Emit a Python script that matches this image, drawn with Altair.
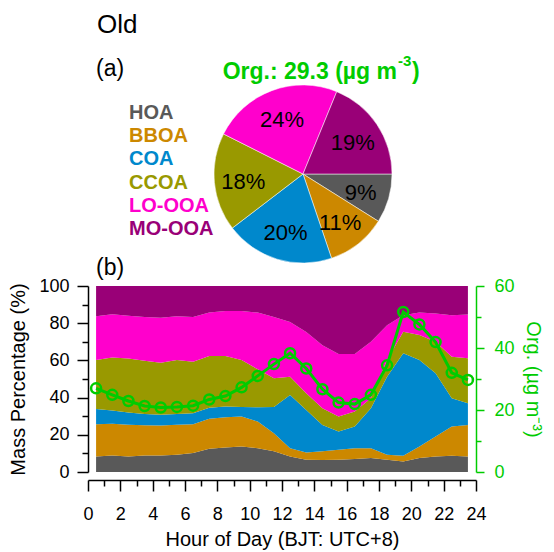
import altair as alt
import pandas as pd

# ---------------- data ----------------
hours = [0.5 + i for i in range(24)]
factors = ["HOA", "BBOA", "COA", "CCOA", "LO-OOA", "MO-OOA"]
colors = ["#595959", "#CC8800", "#0088CC", "#999900", "#FF00CC", "#990077"]

hoa = [8.4, 8.9, 8.4, 8.9, 8.9, 9.3, 10.2, 12.5, 13.2, 13.7, 12.8, 11.1,
       8.4, 6.6, 6.5, 6.6, 7.0, 7.5, 6.6, 5.7, 7.5, 8.4, 8.7, 8.4]
bboa = [17.3, 17.0, 17.0, 16.3, 16.1, 16.1, 15.5, 16.1, 16.3, 16.1, 14.3, 9.8,
        4.4, 3.9, 4.6, 5.3, 5.8, 5.3, 2.7, 3.0, 6.2, 10.7, 15.7, 16.9]
coa = [8.2, 7.1, 6.6, 6.0, 5.8, 5.8, 5.9, 6.0, 5.7, 5.2, 7.7, 14.1,
       28.6, 22.9, 14.2, 9.9, 11.6, 21.5, 41.9, 55.1, 46.5, 34.0, 15.3, 11.7]
ccoa = [26.3, 28.6, 29.0, 28.6, 27.9, 29.0, 27.7, 27.7, 27.1, 25.2, 20.4, 15.4,
        9.8, 8.9, 9.0, 8.0, 8.1, 5.4, 9.0, 11.6, 13.4, 16.9, 22.3, 24.2]
lo_ooa = [23.6, 23.2, 23.0, 23.6, 24.2, 23.6, 24.1, 23.4, 24.3, 26.4, 30.5, 33.0,
          29.5, 33.0, 33.9, 33.6, 30.9, 30.3, 18.7, 8.9, 12.1, 15.2, 22.3, 23.5]
mo_ooa = [16.2, 15.2, 16.0, 16.6, 17.1, 16.2, 16.6, 14.3, 13.4, 13.4, 14.3, 16.6,
          19.3, 24.7, 31.8, 36.6, 36.6, 30.0, 21.1, 15.7, 14.3, 14.8, 15.7, 15.3]

org = [27.0, 24.9, 22.9, 21.3, 20.8, 21.0, 21.4, 23.4, 24.5, 27.3, 31.0, 34.8,
       38.3, 33.4, 26.7, 22.4, 21.9, 24.9, 34.4, 51.6, 47.6, 41.9, 32.0, 29.7]

pie_pct = [9, 11, 20, 18, 24, 19]
org_mean = "29.3"

# ---------------- layout constants ----------------
FONT = "Liberation Sans"
GREEN = "#00CC00"
L, T = 88, 286          # plot-area origin (padding)
W, H = 388, 186
PIE_CX, PIE_CY, PIE_R = 303, 174, 89

series = [hoa, bboa, coa, ccoa, lo_ooa, mo_ooa]
rows = []
for k, (f, s) in enumerate(zip(factors, series)):
    for h, v in zip(hours, s):
        rows.append({"hour": h, "factor": f, "pct": v, "idx": k})
df = pd.DataFrame(rows)
odf = pd.DataFrame({"hour": hours, "org": org})
pdf = pd.DataFrame({"factor": factors, "pct": pie_pct, "idx": list(range(6)),
                    "lab": [f"{p}%" for p in pie_pct]})

color_scale = alt.Scale(domain=factors, range=colors)

x_axis = alt.Axis(values=list(range(25)),
                  labelExpr="datum.value % 2 == 0 ? datum.label : ''",
                  tickSize={"condition": {"test": "datum.value % 2 == 0", "value": 11}, "value": 6},
                  offset=8, grid=False, labelOverlap=False, labelFlush=False,
                  labelSeparation=0,
                  domainColor="black", tickColor="black", labelColor="black",
                  domainWidth=1.5, tickWidth=1.5,
                  labelFont=FONT, labelFontSize=18, labelPadding=14,
                  title="Hour of Day (BJT: UTC+8)", titleFont=FONT, titleFontSize=20,
                  titleFontWeight="normal", titleColor="black", titlePadding=6)
x_scale = alt.Scale(domain=[0, 24], nice=False)

# ---------------- panel (b) ----------------
area = alt.Chart(df).mark_area(opacity=1).encode(
    x=alt.X("hour:Q", scale=x_scale, axis=x_axis),
    y=alt.Y("pct:Q", stack="zero", scale=alt.Scale(domain=[0, 100], nice=False),
            axis=alt.Axis(values=list(range(0, 101, 10)),
                          labelExpr="datum.value % 20 == 0 ? datum.label : ''",
                          tickSize={"condition": {"test": "datum.value % 20 == 0", "value": 11}, "value": 6},
                          grid=False, labelOverlap=False, labelFlush=False,
                          domainColor="black", tickColor="black", labelColor="black",
                          domainWidth=1.5, tickWidth=1.5,
                          labelFont=FONT, labelFontSize=18, labelPadding=8,
                          title="Mass Percentage (%)", titleFont=FONT, titleFontSize=20,
                          titleFontWeight="normal", titleColor="black", titlePadding=10)),
    color=alt.Color("factor:N", scale=color_scale, legend=None),
    order=alt.Order("idx:Q"),
)

line = alt.Chart(odf).mark_line(
    color=GREEN, strokeWidth=3,
    point=alt.OverlayMarkDef(filled=False, color=GREEN, size=100, strokeWidth=2.5, shape="circle"),
).encode(
    x=alt.X("hour:Q", scale=x_scale, axis=x_axis),
    y=alt.Y("org:Q", scale=alt.Scale(domain=[0, 60], nice=False),
            axis=alt.Axis(orient="right", values=list(range(0, 61, 10)),
                          labelExpr="datum.value % 20 == 0 ? datum.label : ''",
                          tickSize={"condition": {"test": "datum.value % 20 == 0", "value": 8}, "value": 5},
                          grid=False, labelOverlap=False, labelFlush=False,
                          domainColor=GREEN, tickColor=GREEN, labelColor=GREEN,
                          domainWidth=1.5, tickWidth=1.5,
                          labelFont=FONT, labelFontSize=18, labelPadding=10,
                          title="Org. (µg m⁻³)", titleFont=FONT, titleFontSize=20,
                          titleFontWeight="normal", titleColor=GREEN, titlePadding=8)),
)

# ---------------- panel (a): pie ----------------
pie = alt.Chart(pdf).mark_arc(outerRadius=PIE_R, stroke="white", strokeWidth=0.5).encode(
    theta=alt.Theta("pct:Q", stack=True, scale=alt.Scale(range=[1.5708, 7.854])),
    color=alt.Color("factor:N", scale=color_scale, legend=None),
    order=alt.Order("idx:Q"),
    x=alt.value(PIE_CX - L), y=alt.value(PIE_CY - T),
)
pie_text = alt.Chart(pdf).mark_text(radius=60, fontSize=22, font=FONT, color="black",
                                    align="center", baseline="middle").encode(
    theta=alt.Theta("pct:Q", stack=True, scale=alt.Scale(range=[1.5708, 7.854])),
    order=alt.Order("idx:Q"),
    text="lab:N",
    x=alt.value(PIE_CX - L), y=alt.value(PIE_CY - T + 2),
)


def label(text, X, Y, size, color="black", weight="normal", align="left"):
    return alt.Chart(pd.DataFrame({"t": [text]})).mark_text(
        align=align, baseline="middle", fontSize=size, font=FONT,
        fontWeight=weight, color=color,
    ).encode(x=alt.value(X - L), y=alt.value(Y - T), text="t:N")


texts = [
    label("Old", 97, 25, 26),
    label("(a)", 96, 69, 23),
    label("(b)", 96, 268, 23),
    label(f"Org.: {org_mean} (µg m", 397, 72, 23, GREEN, "bold", "right"),
    label("-3", 398, 61, 15, GREEN, "bold"),
    label(")", 412, 72, 23, GREEN, "bold"),
]
for i, (f, c) in enumerate(zip(factors, colors)):
    texts.append(label(f, 129, 113 + i * 23.2, 20, c, "bold"))

chart = alt.layer(area, line, pie, pie_text, *texts).resolve_scale(
    y="independent"
).properties(
    width=W, height=H,
    padding={"left": L, "top": T, "right": 554 - L - W, "bottom": 552 - T - H},
    autosize=alt.AutoSizeParams(type="none"),
).configure_view(strokeWidth=0).configure_axis(labelOverlap=False)

chart.save("out.html", embed_options={"renderer": "svg", "actions": False})
